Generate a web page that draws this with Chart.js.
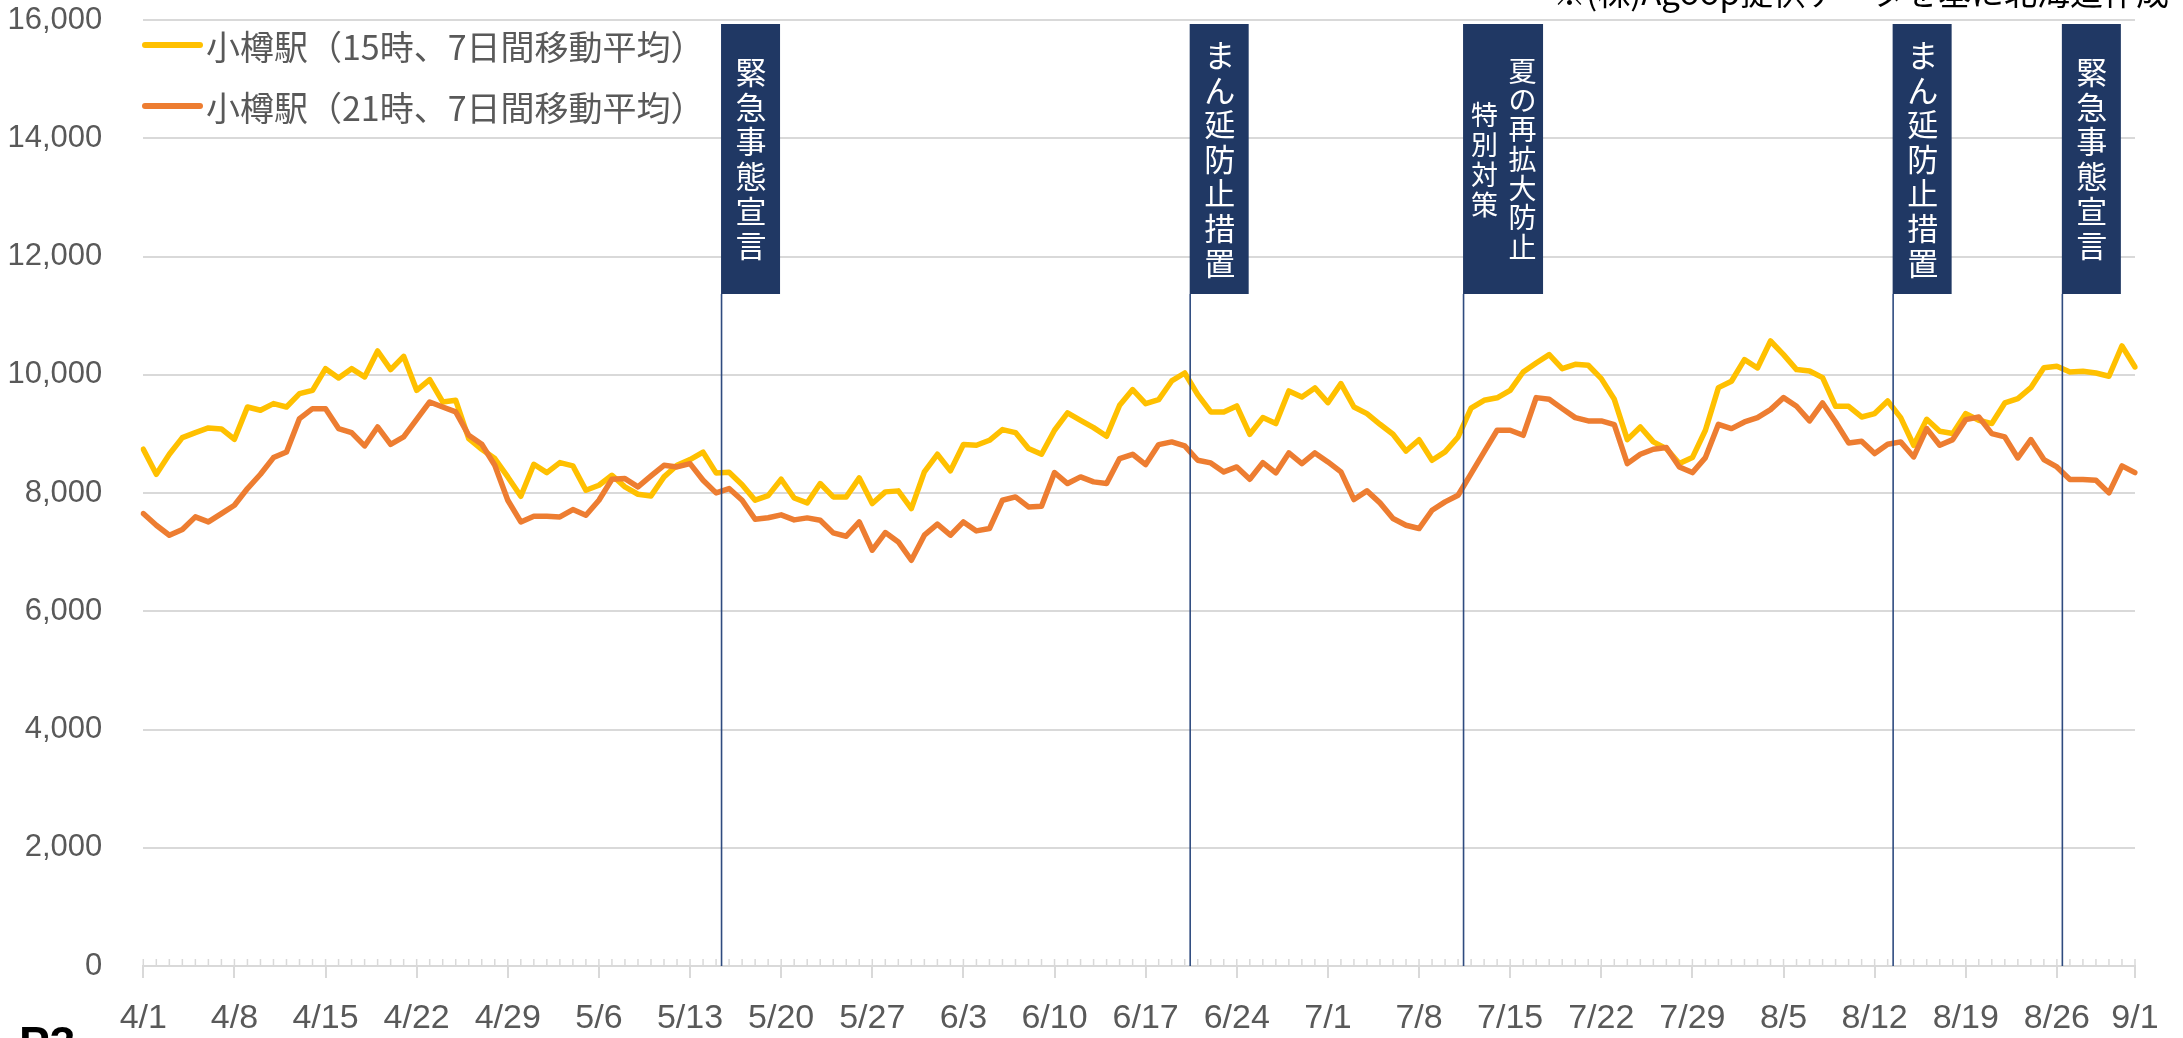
<!DOCTYPE html>
<html>
<head>
<meta charset="utf-8">
<script src="https://cdn.jsdelivr.net/npm/chart.js@4/dist/chart.umd.min.js"></script>
<style>
html,body{margin:0;padding:0;background:#fff;overflow:hidden}
canvas{display:block}
</style>
</head>
<body>
<canvas id="c" width="2183" height="1038"></canvas>
<script>
// ---- categories (daily, 4/1 .. 9/1) ----
const monthSpans = [[4,30],[5,31],[6,30],[7,31],[8,31],[9,1]];
const dates = [];
for (const [m, n] of monthSpans) for (let d = 1; d <= n; d++) dates.push(m + '/' + d);

// tick labels shown on the x axis
const shownTicks = ['4/1','4/8','4/15','4/22','4/29','5/6','5/13','5/20','5/27','6/3','6/10','6/17',
  '6/24','7/1','7/8','7/15','7/22','7/29','8/5','8/12','8/19','8/26','9/1'];

// y ticks
const yTickValues = [0,2000,4000,6000,8000,10000,12000,14000,16000];

// series names
const seriesNames = ['小樽駅（15時、7日間移動平均）','小樽駅（21時、7日間移動平均）'];

// 15時 (7-day moving average)
const otaru15 = [
 8740,8317,8655,8937,9022,9100,9084,8909,9455,9399,9512,9455,9681,9737,10103,9946,10103,9963,10402,10087,
 10312,9737,9918,9540,9568,8920,8740,8582,8272,7945,8486,8345,8514,8458,8047,8131,8300,8103,7979,7951,
 8272,8469,8565,8690,8340,8350,8140,7878,7955,8233,7915,7833,8160,7934,7934,8255,7822,8019,8036,7737,
 8357,8655,8374,8819,8807,8892,9072,9022,8751,8655,9061,9354,9230,9106,8960,9484,9749,9512,9580,9895,
 10030,9664,9371,9371,9472,8993,9275,9174,9726,9625,9777,9529,9850,9455,9343,9162,8993,8710,8900,8554,
 8695,8948,9435,9568,9610,9737,10047,10199,10340,10103,10177,10160,9935,9585,8903,9117,8864,8751,8497,8599,
 9061,9782,9890,10256,10115,10571,10340,10087,10064,9952,9467,9467,9286,9343,9557,9275,8807,9247,9044,9005,
 9343,9230,9174,9523,9596,9782,10120,10143,10047,10058,10030,9974,10487,10132
];

// 21時 (7-day moving average)
const otaru21 = [
 7652,7455,7286,7382,7596,7511,7652,7793,8075,8317,8599,8695,9258,9427,9427,9089,9022,8796,9117,8824,
 8948,9247,9540,9455,9371,8976,8824,8469,7878,7511,7607,7607,7596,7720,7624,7878,8233,8244,8103,8289,
 8469,8441,8497,8216,8002,8075,7878,7557,7582,7630,7545,7579,7540,7326,7269,7511,7032,7331,7173,6863,
 7286,7472,7286,7511,7359,7399,7878,7934,7765,7776,8345,8160,8272,8188,8160,8582,8655,8481,8819,8864,
 8796,8554,8509,8357,8441,8233,8514,8340,8678,8497,8678,8526,8357,7889,8036,7833,7568,7455,7399,7708,
 7849,7962,8328,8695,9061,9061,8976,9613,9585,9427,9275,9219,9219,9157,8497,8655,8740,8768,8441,8345,
 8599,9162,9089,9202,9275,9410,9613,9467,9219,9523,9202,8847,8875,8667,8824,8864,8610,9089,8807,8903,
 9241,9286,9005,8948,8593,8903,8565,8441,8227,8227,8216,8002,8458,8345
];

// policy events (start dates) and their labels (columns, right to left)
const eventDates = ['5/15','6/20','7/11','8/13','8/26'];
const eventLabels = [
  ['緊急事態宣言'],
  ['まん延防止措置'],
  ['夏の再拡大防止','特別対策'],
  ['まん延防止措置'],
  ['緊急事態宣言']
];

const sourceNote = '※(株)Agoop提供データを基に北海道作成';
const pageLabel = 'P3';

// ---- styles ----
const COLORS = ['#FFC000', '#ED7D31'];
const GRID = '#d9d9d9';
const TEXT = '#595959';
const NAVY = '#203864';
const JP = '"Noto Sans CJK JP", "Noto Sans", sans-serif';
const LAT = '"Liberation Sans", Arial, sans-serif';
const EVENT_OFFSET = 0.42;

const overlay = {
  id: 'overlay',
  afterDatasetsDraw(chart) {
    const ctx = chart.ctx, xs = chart.scales.x, ys = chart.scales.y, ca = chart.chartArea;
    ctx.save();
    // minor (daily) tick marks, pointing up
    ctx.strokeStyle = GRID; ctx.lineWidth = 1.5;
    for (let i = 0; i < dates.length; i++) {
      const x = xs.getPixelForValue(i);
      ctx.beginPath(); ctx.moveTo(x, ca.bottom); ctx.lineTo(x, ca.bottom - 7); ctx.stroke();
    }
    // events
    const boxTop = 24, boxBottom = 294;
    eventDates.forEach((d, k) => {
      const x = xs.getPixelForValue(dates.indexOf(d) + EVENT_OFFSET);
      const cols = eventLabels[k];
      const w = cols.length > 1 ? 80 : 59;
      ctx.strokeStyle = '#2f4b7f'; ctx.lineWidth = 1.6;
      ctx.beginPath(); ctx.moveTo(x, boxBottom); ctx.lineTo(x, ys.getPixelForValue(0)); ctx.stroke();
      ctx.fillStyle = NAVY;
      ctx.fillRect(x - 0.5, boxTop, w, boxBottom - boxTop);
      ctx.fillStyle = '#ffffff';
      ctx.textAlign = 'center'; ctx.textBaseline = 'middle';
      const cy = (boxTop + boxBottom) / 2;
      if (cols.length === 1) {
        const s = cols[0], fs = 31, pitch = 34.6;
        ctx.font = fs + 'px ' + JP;
        [...s].forEach((ch, i) => ctx.fillText(ch, x + w / 2, cy + (i - (s.length - 1) / 2) * pitch));
      } else {
        const a = cols[0], b = cols[1];
        ctx.font = '28px ' + JP;
        [...a].forEach((ch, i) => ctx.fillText(ch, x + 59, cy + (i - (a.length - 1) / 2) * 29.3));
        ctx.font = '27px ' + JP;
        [...b].forEach((ch, i) => ctx.fillText(ch, x + 21, cy + 1 + (i - (b.length - 1) / 2) * 30));
      }
    });
    ctx.restore();
  },
  afterDraw(chart) {
    const ctx = chart.ctx;
    ctx.save();
    // legend
    const rows = [46, 107];
    chart.data.datasets.forEach((ds, i) => {
      ctx.strokeStyle = ds.borderColor; ctx.lineWidth = 6; ctx.lineCap = 'round';
      ctx.beginPath(); ctx.moveTo(145, rows[i] - 1); ctx.lineTo(200, rows[i] - 1); ctx.stroke();
      ctx.fillStyle = TEXT; ctx.font = '34px ' + JP;
      ctx.textAlign = 'left'; ctx.textBaseline = 'middle';
      ctx.fillText(ds.label, 206, rows[i] + 1);
    });
    // source note (clipped at the top)
    ctx.fillStyle = '#000'; ctx.font = '33px ' + JP;
    ctx.textAlign = 'left'; ctx.textBaseline = 'alphabetic';
    ctx.fillText(sourceNote, 1553, 5);
    // page label (clipped at the bottom)
    ctx.font = 'bold 46px ' + LAT;
    ctx.fillText(pageLabel, 19, 1059);
    ctx.restore();
  }
};

new Chart(document.getElementById('c'), {
  type: 'line',
  data: {
    labels: dates,
    datasets: [
      { label: seriesNames[0], data: otaru15, borderColor: COLORS[0], backgroundColor: COLORS[0], order: 2 },
      { label: seriesNames[1], data: otaru21, borderColor: COLORS[1], backgroundColor: COLORS[1], order: 1 }
    ]
  },
  options: {
    responsive: false,
    devicePixelRatio: 1,
    animation: false,
    events: [],
    layout: { padding: { top: 20, right: 48, bottom: 0, left: 0 } },
    elements: {
      line: { borderWidth: 5.5, tension: 0, borderJoinStyle: 'round', borderCapStyle: 'round' },
      point: { radius: 0 }
    },
    plugins: { legend: { display: false }, tooltip: { enabled: false } },
    scales: {
      x: {
        type: 'category',
        afterFit(s) { s.height = 72; s.paddingLeft = 0; s.paddingRight = 0; },
        grid: {
          display: true, drawOnChartArea: false, drawTicks: true, tickLength: 12,
          color: GRID, lineWidth: 2,
          tickColor: (c) => (c.index === dates.length - 1 ? 'rgba(0,0,0,0)' : GRID)
        },
        border: { display: true, color: GRID, width: 2 },
        ticks: {
          autoSkip: false, maxRotation: 0, minRotation: 0, padding: 20,
          color: TEXT, font: { family: LAT, size: 34 },
          callback(v, i) { const l = dates[i]; return shownTicks.includes(l) ? l : null; }
        }
      },
      y: {
        min: 0, max: 16000,
        afterFit(s) { s.width = 143.3; s.paddingTop = 0; s.paddingBottom = 0; },
        afterBuildTicks(s) { s.ticks = yTickValues.map(v => ({ value: v })); },
        grid: { color: GRID, lineWidth: 2, drawTicks: false },
        border: { display: false },
        ticks: {
          padding: 41, color: TEXT, font: { family: LAT, size: 31 },
          callback: (v) => Number(v).toLocaleString('en-US')
        }
      }
    }
  },
  plugins: [overlay]
});
</script>
</body>
</html>
